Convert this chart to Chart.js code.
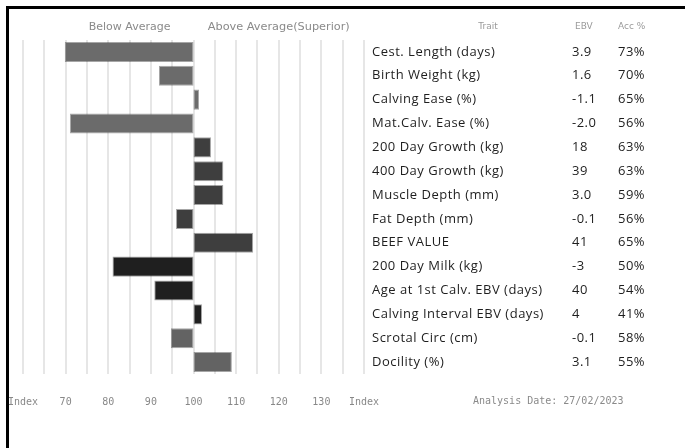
<!DOCTYPE html>
<html>
<head>
<meta charset="utf-8">
<script src="https://cdn.jsdelivr.net/npm/chart.js@4"></script>
<style>
  html, body { margin: 0; padding: 0; background: #fff; overflow: hidden; }
  #wrap { position: relative; width: 685px; height: 448px; overflow: hidden; }
  .edge { position: absolute; background: #000; }
  #edgeTop { left: 6px; top: 6px; width: 679px; height: 3px; }
  #edgeLeft { left: 6px; top: 6px; width: 3px; height: 442px; }
  #chart { position: absolute; left: 0; top: 0; }
</style>
</head>
<body>
<div id="wrap">
  <div class="edge" id="edgeTop"></div>
  <div class="edge" id="edgeLeft"></div>
  <canvas id="chart" width="685" height="448"></canvas>
</div>
<script>
// EBV trait overzicht
const traits = [
  "Cest. Length (days)", "Birth Weight (kg)", "Calving Ease (%)", "Mat.Calv. Ease (%)",
  "200 Day Growth (kg)", "400 Day Growth (kg)", "Muscle Depth (mm)", "Fat Depth (mm)",
  "BEEF VALUE", "200 Day Milk (kg)", "Age at 1st Calv. EBV (days)",
  "Calving Interval EBV (days)", "Scrotal Circ (cm)", "Docility (%)"
];
const ebvValues = ["3.9", "1.6", "-1.1", "-2.0", "18", "39", "3.0", "-0.1", "41", "-3", "40", "4", "-0.1", "3.1"];
const accValues = ["73%", "70%", "65%", "56%", "63%", "63%", "59%", "56%", "65%", "50%", "54%", "41%", "58%", "55%"];
const indexValues = [69.8, 91.9, 101.3, 71.0, 104.1, 107, 107, 95.9, 114, 81, 90.8, 102, 94.7, 109];
const tickValues = [60, 70, 80, 90, 100, 110, 120, 130, 140];
const tickLabels = ["Index", "70", "80", "90", "100", "110", "120", "130", "Index"];
const headerBelow = "Below Average";
const headerAbove = "Above Average(Superior)";
const analysisDate = "Analysis Date: 27/02/2023";

// kleuren per groep balken
const barColors = [
  "#6b6b6b", "#6b6b6b", "#6b6b6b", "#6b6b6b",
  "#3e3e3e", "#3e3e3e", "#3e3e3e", "#3e3e3e", "#3e3e3e",
  "#1f1f1f", "#1f1f1f", "#1f1f1f",
  "#636363", "#636363"
];

const textPlugin = {
  id: "traitText",
  afterDraw(chart) {
    const c = chart.ctx;
    const x = chart.scales.x;
    const y = chart.scales.y;
    c.save();
    c.textBaseline = "middle";

    // kopjes boven de grafiek
    c.fillStyle = "#8a8a8a";
    c.font = "11px 'DejaVu Sans'";
    c.textAlign = "center";
    c.fillText(headerBelow, x.getPixelForValue(85), 27);
    c.font = "11.3px 'DejaVu Sans'";
    c.fillText(headerAbove, x.getPixelForValue(120), 27);

    c.fillStyle = "#9a9a9a";
    c.font = "9px 'DejaVu Sans'";
    c.fillText("Trait", 488, 27);
    c.textAlign = "left";
    c.fillText("EBV", 575, 27);
    c.fillText("Acc %", 618, 27);

    // rijen
    c.fillStyle = "#1e1e1e";
    c.font = "13px 'Open Sans'";
    c.letterSpacing = "0.5px";
    traits.forEach((t, i) => {
      const py = y.getPixelForValue(i);
      c.fillText(t, 372, py);
      c.fillText(ebvValues[i], 572, py);
      c.fillText(accValues[i], 618, py);
    });
    c.letterSpacing = "0px";

    // analysedatum
    c.fillStyle = "#8a8a8a";
    c.font = "10px 'DejaVu Sans Mono'";
    c.fillText(analysisDate, 473, 401);
    c.restore();
  }
};

new Chart(document.getElementById("chart"), {
  type: "bar",
  data: {
    labels: traits,
    datasets: [{
      data: indexValues.map(v => [100, v]),
      backgroundColor: barColors,
      borderColor: "rgba(0,0,0,0.35)",
      borderWidth: 1,
      borderSkipped: false,
      barPercentage: 0.84,
      categoryPercentage: 1
    }]
  },
  plugins: [textPlugin],
  options: {
    indexAxis: "y",
    responsive: false,
    animation: false,
    layout: { padding: { left: 23, right: 321, top: 40, bottom: 38 } },
    plugins: { legend: { display: false }, tooltip: { enabled: false } },
    scales: {
      y: { display: false },
      x: {
        min: 60,
        max: 140,
        border: { display: false },
        grid: { color: "#e6e6e6", lineWidth: 2, drawTicks: false },
        afterFit: s => { s.height = 36; s.paddingLeft = 0; s.paddingRight = 0; },
        ticks: {
          stepSize: 5,
          autoSkip: false,
          maxRotation: 0,
          padding: 22,
          color: "#888",
          font: { family: "'DejaVu Sans Mono'", size: 10 },
          callback: v => {
            const i = tickValues.indexOf(v);
            return i >= 0 ? tickLabels[i] : "";
          }
        }
      }
    }
  }
});
</script>
</body>
</html>
